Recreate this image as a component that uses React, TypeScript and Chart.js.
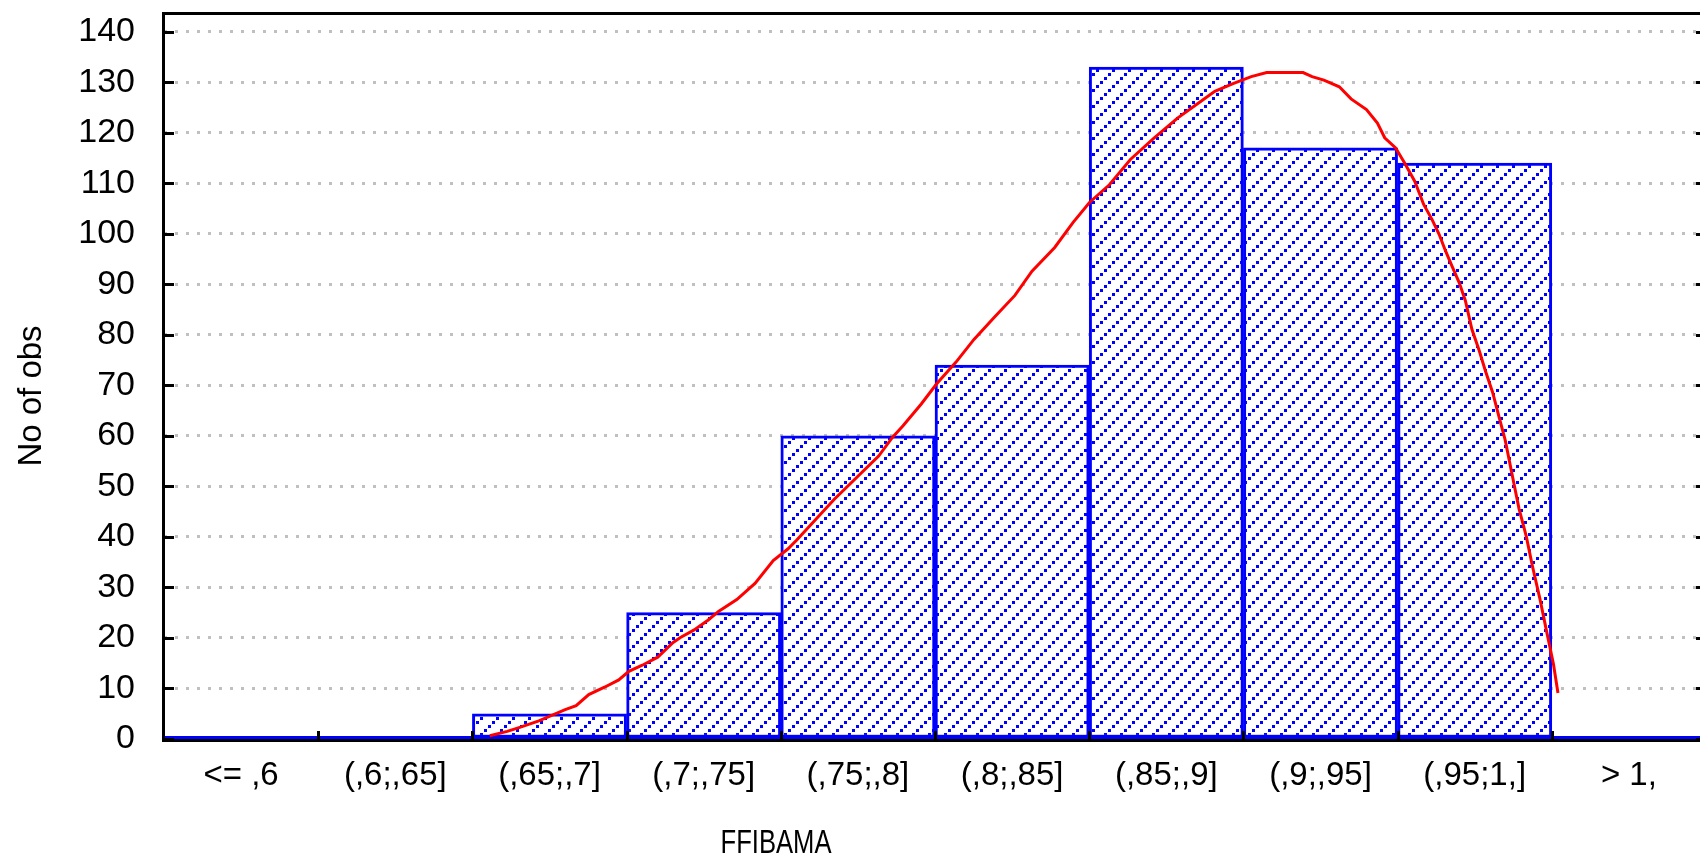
import React, { useEffect, useRef } from "react";
import { Chart, registerables } from "chart.js";

Chart.register(...registerables);

// ---- data ----
const categories = ["<= ,6", "(,6;,65]", "(,65;,7]", "(,7;,75]", "(,75;,8]", "(,8;,85]", "(,85;,9]", "(,9;,95]", "(,95;1,]", "> 1,"];
const counts = [0, 0, 5, 25, 60, 74, 133, 117, 114, 0];

// fitted curve (x in FFIBAMA units, y in number of obs)
const curveX = [
  0.6412, 0.6474, 0.6519, 0.6587, 0.6681, 0.672, 0.6765, 0.6823, 0.6872, 0.6908, 0.6956, 0.7011,
  0.7066, 0.7092, 0.7141, 0.719, 0.7229, 0.7293, 0.7358, 0.7423, 0.7475, 0.7507, 0.764, 0.7799,
  0.7848, 0.7886, 0.7951, 0.8006, 0.8075, 0.8139, 0.821, 0.8285, 0.8346, 0.8427, 0.8492, 0.8551,
  0.8622, 0.8697, 0.8778, 0.8865, 0.894, 0.8998, 0.9063, 0.9128, 0.9183, 0.9313, 0.9345, 0.9387,
  0.9442, 0.9484, 0.9539, 0.9578, 0.9604, 0.9643, 0.9675, 0.9711, 0.9743, 0.9773, 0.9798, 0.9821,
  0.9844, 0.987, 0.9892, 0.9915, 0.9941, 0.9963, 0.9989, 1.0012, 1.0034, 1.006, 1.0083, 1.0109,
  1.0131, 1.0157, 1.018, 1.0206, 1.0222,
];
const curveY = [
  0.65, 1.5, 2.3, 3.6, 5.8, 6.6, 8.8, 10.3, 11.7, 13.4, 14.6, 16.2,
  19.1, 20.1, 21.6, 23.5, 25.3, 27.6, 30.8, 35.3, 37.6, 39.4, 47.4, 56.0,
  59.7, 62.0, 66.3, 70.3, 74.6, 79.1, 83.4, 87.8, 92.6, 97.3, 102.2, 106.2,
  109.7, 114.7, 118.8, 122.9, 125.9, 128.2, 129.7, 131.1, 131.9, 131.9, 131.1, 130.4,
  129.1, 126.7, 124.6, 121.9, 119.0, 117.0, 114.0, 110.4, 105.8, 102.8, 99.9, 96.6,
  93.6, 90.3, 86.7, 81.1, 76.9, 72.9, 68.6, 63.7, 59.1, 51.9, 45.6, 40.1,
  34.2, 27.9, 21.7, 14.8, 9.1,
];

const xMin = 0.55;
const xMax = 1.05;
const yMax = 143.5;
const yStep = 10;
const xTitle = "FFIBAMA";
const yTitle = "No of obs";

const FONT = "'Liberation Sans', Arial, sans-serif";

function makeHatch(): CanvasPattern | string {
  const c = document.createElement("canvas");
  const s = 16;
  c.width = s;
  c.height = s;
  const g = c.getContext("2d");
  if (!g) return "#ffffff";
  g.fillStyle = "#ffffff";
  g.fillRect(0, 0, s, s);
  g.fillStyle = "#0000FF";
  const pts = [
    [0, 13],
    [4, 9],
    [8, 5],
    [12, 1],
  ];
  for (const [x, y] of pts) g.fillRect(x, y, 3, 3);
  const p = g.createPattern(c, "repeat");
  return p || "#0000FF";
}

const framePlugin = {
  id: "frame",
  beforeDatasetsDraw(chart: any) {
    const { ctx, chartArea } = chart;
    const { left, right, bottom } = chartArea;
    ctx.save();
    ctx.fillStyle = "#0000FF";
    ctx.fillRect(left, bottom - 3, right - left, 3);
    ctx.restore();
  },
  afterDatasetsDraw(chart: any) {
    const { ctx, chartArea } = chart;
    const { left, right, top, bottom } = chartArea;
    const y = chart.scales.y;
    ctx.save();
    ctx.fillStyle = "#000000";
    // axes / frame
    ctx.fillRect(left - 2, top - 2, right - left + 4, 3); // top
    ctx.fillRect(left - 2, top - 2, 3, bottom - top + 5); // left
    ctx.fillRect(right - 1, top - 2, 3, bottom - top + 5); // right
    ctx.fillRect(left - 2, bottom, right - left + 4, 3); // bottom
    // y ticks (inward, both sides)
    for (const t of y.ticks) {
      const py = Math.round(y.getPixelForValue(t.value));
      ctx.fillRect(left, py - 1, 10, 3);
      ctx.fillRect(right - 10, py - 1, 10, 3);
    }
    // x ticks at category boundaries
    const n = categories.length;
    const w = (right - left) / n;
    for (let i = 1; i < n; i++) {
      const px = Math.round(left + i * w);
      ctx.fillRect(px - 1, bottom - 8, 3, 8);
    }
    // axis titles
    ctx.fillStyle = "#000000";
    ctx.font = `34px ${FONT}`;
    ctx.textAlign = "center";
    ctx.textBaseline = "alphabetic";
    const tw = ctx.measureText(xTitle).width;
    const sx = 111 / tw;
    ctx.save();
    ctx.translate(776, 853);
    ctx.scale(sx, 1);
    ctx.fillText(xTitle, 0, 0);
    ctx.restore();

    ctx.save();
    ctx.font = `33px ${FONT}`;
    ctx.translate(41, 396);
    ctx.rotate(-Math.PI / 2);
    ctx.fillText(yTitle, 0, 0);
    ctx.restore();
    ctx.restore();
  },
};

export default function App() {
  const ref = useRef<HTMLCanvasElement>(null);
  useEffect(() => {
    const canvas = ref.current;
    if (!canvas) return;
    Chart.defaults.font.family = FONT;
    Chart.defaults.color = "#000000";
    const hatch = makeHatch();
    const chart = new Chart(canvas, {
      type: "bar",
      data: {
        labels: categories,
        datasets: [
          {
            type: "line",
            data: curveX.map((xv, i) => ({ x: xv, y: curveY[i] })),
            xAxisID: "x2",
            yAxisID: "y",
            borderColor: "#FF0000",
            borderWidth: 3,
            pointRadius: 0,
            tension: 0,
            fill: false,
            order: 0,
          } as any,
          {
            type: "bar",
            data: counts,
            xAxisID: "x",
            yAxisID: "y",
            backgroundColor: hatch as any,
            borderColor: "#0000FF",
            borderWidth: 3,
            borderSkipped: false,
            grouped: false,
            barPercentage: 1,
            categoryPercentage: 1,
            order: 1,
          } as any,
        ],
      },
      options: {
        animation: false,
        responsive: false,
        devicePixelRatio: 1,
        layout: { padding: { top: 14, right: 6, left: 0, bottom: 0 } },
        plugins: { legend: { display: false }, tooltip: { enabled: false } },
        scales: {
          x: {
            type: "category",
            offset: true,
            grid: { display: false, drawTicks: false },
            border: { display: false },
            ticks: {
              font: { size: 33 },
              color: "#000000",
              padding: 17,
              maxRotation: 0,
              autoSkip: false,
            },
            afterFit: (s: any) => {
              s.height = 856 - 739;
              s.paddingLeft = 0;
              s.paddingRight = 0;
            },
          },
          x2: { type: "linear", display: false, min: xMin, max: xMax },
          y: {
            type: "linear",
            min: 0,
            max: yMax,
            ticks: {
              stepSize: yStep,
              includeBounds: false,
              font: { size: 34 },
              color: "#000000",
              padding: 29,
            },
            grid: { color: "#C0C0C0", lineWidth: 3, drawTicks: false },
            border: { display: false, dash: [3, 8] },
            afterFit: (s: any) => {
              s.width = 164;
              s.paddingTop = 0;
              s.paddingBottom = 0;
            },
          },
        } as any,
      },
      plugins: [framePlugin],
    });
    return () => chart.destroy();
  }, []);
  return (
    <div
      style={{
        position: "fixed",
        left: 0,
        top: 0,
        width: 1700,
        height: 856,
        overflow: "hidden",
        background: "#ffffff",
      }}
    >
      <canvas ref={ref} width={1712} height={856} style={{ display: "block" }} />
    </div>
  );
}
